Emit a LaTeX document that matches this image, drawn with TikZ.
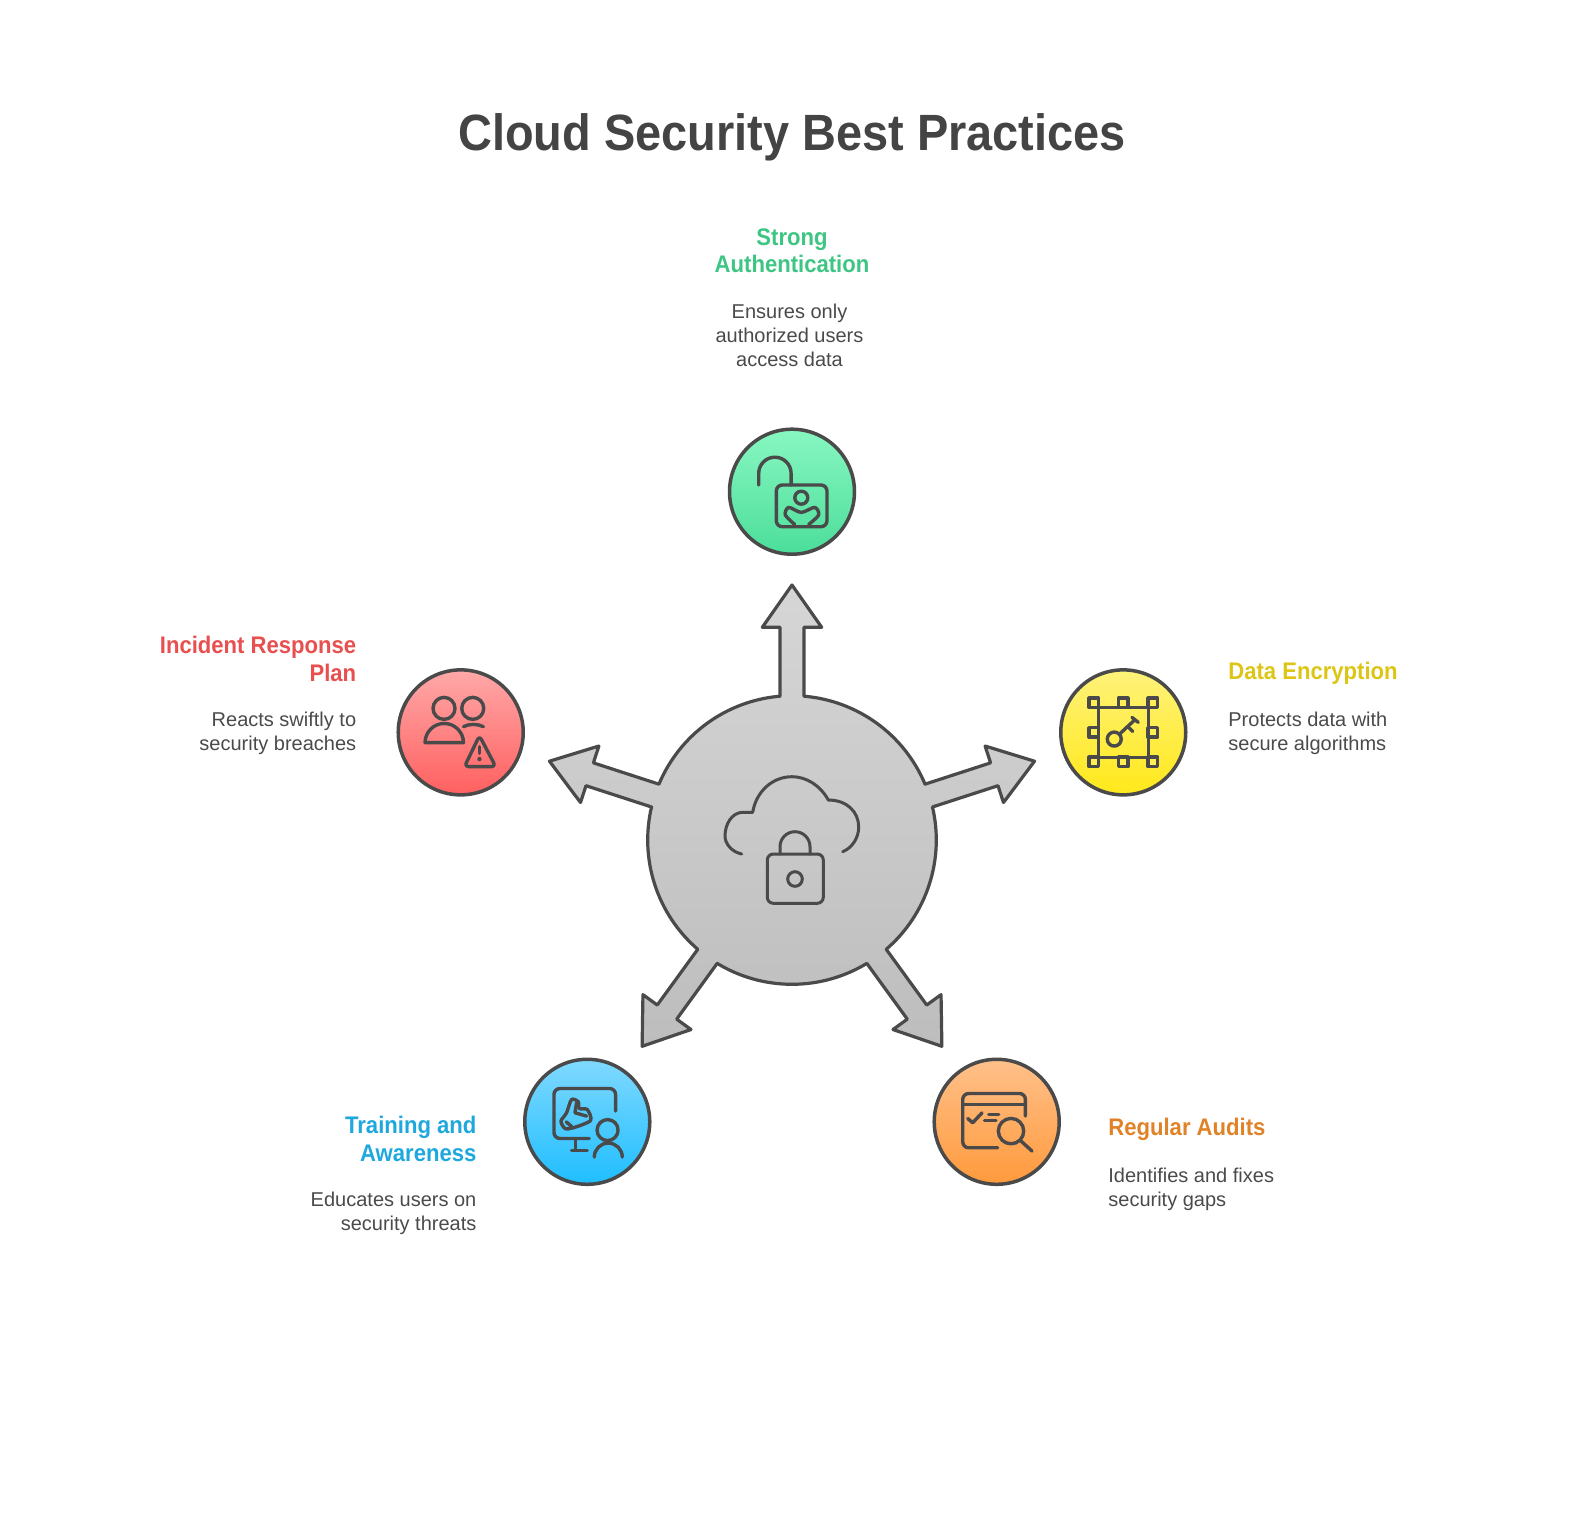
\documentclass[tikz,border=0pt]{standalone}
\usepackage{fontspec}
\setmainfont[BoldFeatures={FakeStretch=0.92}]{Liberation Sans}
\definecolor{ink}{HTML}{4A4A4A}
\definecolor{titleink}{HTML}{444444}
\definecolor{hubtop}{HTML}{D6D6D6}
\definecolor{hubbot}{HTML}{BDBDBD}
\definecolor{authtxt}{HTML}{3CC583}
\definecolor{enctxt}{HTML}{DDC515}
\definecolor{audittxt}{HTML}{E08228}
\definecolor{traintxt}{HTML}{1EA8DE}
\definecolor{planntxt}{HTML}{E85050}
\definecolor{authtop}{HTML}{88F7C2}
\definecolor{authbot}{HTML}{4CDE9A}
\definecolor{enctop}{HTML}{FFF27A}
\definecolor{encbot}{HTML}{FFE81A}
\definecolor{audittop}{HTML}{FFC08A}
\definecolor{auditbot}{HTML}{FF9A3C}
\definecolor{traintop}{HTML}{80D9FF}
\definecolor{trainbot}{HTML}{1FBEFF}
\definecolor{planntop}{HTML}{FFA8A8}
\definecolor{plannbot}{HTML}{FF6060}
\tikzset{
  badge/.style={circle, draw=ink, line width=1.75pt, minimum size=62.5pt, inner sep=0pt},
  iconline/.style={draw=ink, line width=1.7pt, line cap=round, line join=round},
  hubicon/.style={draw=ink, line width=1.5pt, line cap=round, line join=round},
  heading/.style={inner sep=0pt, font=\fontsize{12}{13.9}\selectfont\bfseries},
  blurb/.style={inner sep=0pt, text=ink, font=\fontsize{10}{12}\selectfont}
}
\begin{document}
\begin{tikzpicture}[x=0.5pt, y=0.5pt, line cap=round, line join=round]
\useasboundingbox (-792,-672) rectangle (792,840);

% Center hub with its five arrows
\draw[draw=ink, line width=1.6pt, top color=hubtop, bottom color=hubbot]
  (94.77:144.3)
  \foreach \a in {90,18,-54,-126,-198} {
    -- ([rotate=\a]143.8,12) -- ([rotate=\a]212.7,12) -- ([rotate=\a]212.7,29.7)
    -- ([rotate=\a]255,0) -- ([rotate=\a]212.7,-29.7) -- ([rotate=\a]212.7,-12)
    -- ([rotate=\a]143.8,-12)
    arc[start angle=\a-4.77, end angle=\a-67.23, radius=144.3]
  } -- cycle;

% Cloud and lock
\draw[hubicon] (-50.3,-14) .. controls (-60,-12) and (-67,-4) .. (-67,4)
  .. controls (-67,16) and (-60,27.7) .. (-49,27.7) -- (-39.3,27.7)
  .. controls (-36,48) and (-20,63.3) .. (0,63.3)
  .. controls (14,63.3) and (28,55) .. (36.3,40)
  .. controls (55,40) and (66.7,28) .. (66.7,13)
  .. controls (66.7,2) and (60,-8) .. (50.7,-11.7);
\draw[hubicon, rounded corners=3] (-24.7,-14) rectangle (31.3,-63.3);
\draw[hubicon] (-12,-14) -- (-12,-6.7) arc[start angle=180, end angle=0, radius=15] -- (18,-14);
\draw[hubicon] (3,-39) circle (7.3);

% Badges
\node[badge, top color=authtop, bottom color=authbot] (auth) at (90:348.3) {};
\node[badge, top color=enctop, bottom color=encbot] (enc) at (18:348.3) {};
\node[badge, top color=audittop, bottom color=auditbot] (audit) at (-54:348.3) {};
\node[badge, top color=traintop, bottom color=trainbot] (train) at (-126:348.3) {};
\node[badge, top color=planntop, bottom color=plannbot] (plann) at (162:348.3) {};

% Open lock icon
\begin{scope}[shift={(auth.center)}]
\draw[iconline] (-33.3,6.7) -- (-33.3,18.3) arc[start angle=180, end angle=0, radius=16.2] -- (-0.9,6.7);
\draw[iconline, rounded corners=3] (-15.7,6.7) rectangle (35,-35);
\draw[iconline] (9.3,-6) circle (6.5);
\draw[iconline] plot[smooth] coordinates {(2.7,-32.7) (-6.7,-23.3) (-3.3,-15.7) (9.3,-20.7) (22.7,-15.7) (26.7,-23.3) (16.7,-32.7)};
\end{scope}

% Key in frame icon
\begin{scope}[shift={(enc.center)}]
\draw[iconline] (-25,25) rectangle (25,-25);
\foreach \px/\py in {-29.5/29.5,0/29.5,29.5/29.5,-29.5/0,29.5/0,-29.5/-29.5,0/-29.5,29.5/-29.5}
  \draw[iconline, fill=enctop!60!encbot] (\px-4.7,\py-4.7) rectangle (\px+4.7,\py+4.7);
\draw[iconline] (-9,-6.7) circle (7);
\draw[iconline] (-4,-2) -- (11.7,12.7);
\draw[iconline] (8.7,15) -- (15,10);
\draw[iconline] (4.3,6) -- (9.3,1);
\end{scope}

% Audit window icon
\begin{scope}[shift={(audit.center)}]
\draw[iconline, rounded corners=3] (1,-26) -- (-34,-26) -- (-34,28.3) -- (28.7,28.3) -- (28.7,5.7);
\draw[iconline] (-34,17.3) -- (28.7,17.3);
\draw[iconline] (-29,3.3) -- (-24,-1) -- (-14.7,9);
\draw[iconline] (-8,7.3) -- (2,7.3);
\draw[iconline] (-12.3,1.3) -- (-0.7,1.3);
\draw[iconline] (14.3,-9.3) circle (12.7);
\draw[iconline] (24,-19) -- (35.3,-29.3);
\end{scope}

% Monitor and person icon
\begin{scope}[shift={(train.center)}]
\draw[iconline, rounded corners=3] (28.3,10.7) -- (28.3,33.3) -- (-33.3,33.3) -- (-33.3,-16.7) -- (2,-16.7);
\draw[iconline] (-11.7,-17.7) -- (-11.7,-28.7);
\draw[iconline] (-15.7,-28.7) -- (0,-28.7);
\draw[iconline] (20.3,-8.3) circle (10.5);
\draw[iconline] (7,-35.3) arc[start angle=180, end angle=0, radius=14];
\draw[iconline] plot[smooth cycle, tension=0.45] coordinates {(-15.7,22.3) (-9,20) (-8,13.3) (0,12.3) (3.3,1.3) (-14,-6) (-22.3,-6.7) (-26.3,0.7) (-20.7,9)};
\draw[iconline] (-10.7,19) -- (-12.3,9) -- (-0.7,5.7);
\draw[iconline] (-21,0) -- (-15.5,-5);
\end{scope}

% People and warning icon
\begin{scope}[shift={(plann.center)}]
\draw[iconline] (-16.7,24) circle (11);
\draw[iconline] (12,24) circle (11);
\draw[iconline] (-35.7,-10.3) arc[start angle=180, end angle=0, radius=19.2] -- cycle;
\draw[iconline] (2.7,5.7) .. controls (8,8.7) and (17,8.7) .. (22.7,5.7);
\draw[iconline, rounded corners=2] (18.7,-3.3) -- (3.7,-34.3) -- (35,-34.3) -- cycle;
\draw[iconline] (18.7,-14.3) -- (18.7,-21);
\fill[ink] (18.7,-26.7) circle (2.2);
\end{scope}

% Title
\node[text=titleink, font=\fontsize{25.5}{30}\selectfont\bfseries] (title) at (0,703) {Cloud Security Best Practices};

% Labels
\node[heading, text=authtxt, anchor=north, align=center] (authHead) at (0,612) {Strong\\Authentication};
\node[blurb, anchor=north, align=center] (authText) at (-2.5,536) {Ensures only\\authorized users\\access data};

\node[heading, text=enctxt, anchor=north west, align=left] (encHead) at (436,178.3) {Data Encryption};
\node[blurb, anchor=north west, align=left] (encText) at (436,128.5) {Protects data with\\secure algorithms};

\node[heading, text=audittxt, anchor=north west, align=left] (auditHead) at (316,-278) {Regular Audits};
\node[blurb, anchor=north west, align=left] (auditText) at (316,-328) {Identifies and fixes\\security gaps};

\node[heading, text=traintxt, anchor=north east, align=right] (trainHead) at (-315.2,-276) {Training and\\Awareness};
\node[blurb, anchor=north east, align=right] (trainText) at (-315.2,-352) {Educates users on\\security threats};

\node[heading, text=planntxt, anchor=north east, align=right] (plannHead) at (-435.4,204.5) {Incident Response\\Plan};
\node[blurb, anchor=north east, align=right] (plannText) at (-435.4,128.5) {Reacts swiftly to\\security breaches};

\end{tikzpicture}
\end{document}
